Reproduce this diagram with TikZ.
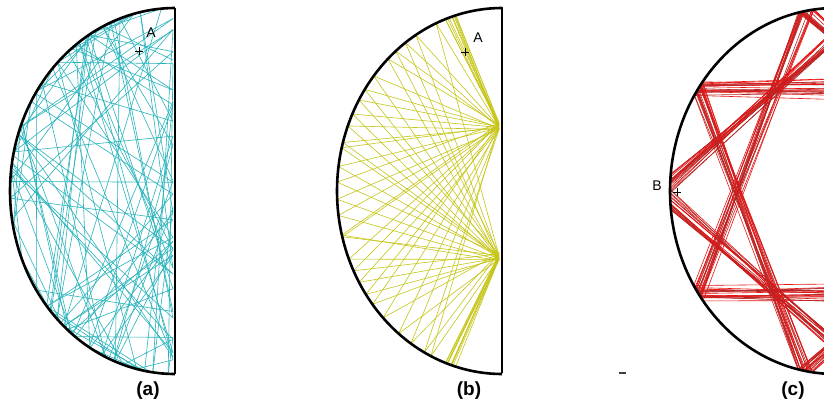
\documentclass[tikz,border=0pt]{standalone}
\usepackage{fontspec}
\setmainfont{Liberation Sans}
\definecolor{cyanl}{RGB}{40,180,188}
\definecolor{olivel}{RGB}{198,198,24}
\definecolor{redl}{RGB}{235,18,18}
\definecolor{redd}{RGB}{180,40,40}
\begin{document}
\begin{tikzpicture}[x=1pt,y=-1pt,
  wallline/.style={line width=2pt,black},
  rim/.style={line width=2.6pt,black},
  traj/.style={line width=0.6pt},
  lab/.style={font=\fontsize{19}{21}\selectfont\bfseries,inner sep=0pt},
  ptlab/.style={font=\fontsize{14}{15}\selectfont,inner sep=0pt},
  crossmark/.style={line width=0.7pt,black}]
\useasboundingbox (0,0) rectangle (824,405);
\clip (0,0) rectangle (824,405);
\fill[white] (0,0) rectangle (824,405);

% ---------- (a) chaotic trajectory ----------
\pgfmathsetseed{7}
\xdef\px{173}\xdef\py{60}\xdef\onw{1}
\foreach \i in {1,...,100}{
  \pgfmathsetmacro\rr{rnd}
  \ifnum\onw=1 \def\rr{0.9}\fi
  \ifdim\rr pt<0.42pt
    \pgfmathsetmacro\nx{173}
    \pgfmathsetmacro\ny{12+358*rnd}
    \gdef\onw{1}
  \else
    \pgfmathsetmacro\ang{92+176*rnd}
    \pgfmathsetmacro\nx{175+165*cos(\ang)}
    \pgfmathsetmacro\ny{191-183*sin(\ang)}
    \gdef\onw{0}
  \fi
  \draw[traj,cyanl] (\px,\py) -- (\nx,\ny);
  \xdef\px{\nx}\xdef\py{\ny}
}

% ---------- (b) fan through two wall points ----------
\pgfmathsetseed{11}
\foreach \i in {1,...,10}{
  \pgfmathsetmacro\ang{106+5*rnd}
  \pgfmathsetmacro\ax{502+165*cos(\ang)}
  \pgfmathsetmacro\ay{191-183*sin(\ang)}
  \pgfmathsetmacro\fy{126+4*rand}
  \draw[traj,olivel] (\ax,\ay) -- (499,\fy);
  \pgfmathsetmacro\ang{249+5*rnd}
  \pgfmathsetmacro\ax{502+165*cos(\ang)}
  \pgfmathsetmacro\ay{191-183*sin(\ang)}
  \pgfmathsetmacro\fy{257+4*rand}
  \draw[traj,olivel] (\ax,\ay) -- (499,\fy);
}
\foreach \i in {1,...,28}{
  \pgfmathsetmacro\ang{113+134*(\i-0.5)/28+2.5*rand}
  \pgfmathsetmacro\ax{502+165*cos(\ang)}
  \pgfmathsetmacro\ay{191-183*sin(\ang)}
  \pgfmathsetmacro\fy{126+4*rand}
  \pgfmathsetmacro\gy{257+4*rand}
  \draw[traj,olivel] (499,\fy) -- (\ax,\ay) -- (499,\gy);
}

% ---------- (c) star-shaped orbit ----------
\pgfmathsetseed{5}
\foreach \i in {1,...,20}{
  \ifodd\i \def\col{redl}\else\def\col{redd}\fi
  \pgfmathsetmacro\aB{177+4*rand}
  \pgfmathsetmacro\Bx{835+165*cos(\aB)}
  \pgfmathsetmacro\By{191-183*sin(\aB)}
  \pgfmathsetmacro\aC{183+4*rand}
  \pgfmathsetmacro\Cx{835+165*cos(\aC)}
  \pgfmathsetmacro\Cy{191-183*sin(\aC)}
  \pgfmathsetmacro\aT{100+3*rand}
  \pgfmathsetmacro\Tx{835+165*cos(\aT)}
  \pgfmathsetmacro\Ty{191-183*sin(\aT)}
  \pgfmathsetmacro\aD{260+3*rand}
  \pgfmathsetmacro\Dx{835+165*cos(\aD)}
  \pgfmathsetmacro\Dy{191-183*sin(\aD)}
  \pgfmathsetmacro\aU{146+3*rand}
  \pgfmathsetmacro\Ux{835+165*cos(\aU)}
  \pgfmathsetmacro\Uy{191-183*sin(\aU)}
  \pgfmathsetmacro\aL{214+3*rand}
  \pgfmathsetmacro\Lx{835+165*cos(\aL)}
  \pgfmathsetmacro\Ly{191-183*sin(\aL)}
  \pgfmathsetmacro\ra{(835-\Bx)/(1670-\Tx-\Bx)}
  \pgfmathsetmacro\rb{(835-\Cx)/(1670-\Dx-\Cx)}
  \pgfmathsetmacro\Wa{\By+(\Ty-\By)*\ra}
  \pgfmathsetmacro\Wb{\Cy+(\Dy-\Cy)*\rb}
  \pgfmathsetmacro\Hu{\Uy+5*rand}
  \pgfmathsetmacro\Hl{\Ly+5*rand}
  \draw[traj,\col] (\Bx,\By) -- (835,\Wa) -- (\Tx,\Ty) -- (\Lx,\Ly) -- (835,\Hl);
  \draw[traj,\col] (835,\Hu) -- (\Ux,\Uy) -- (\Dx,\Dy) -- (835,\Wb) -- (\Cx,\Cy);
}

% ---------- boundaries ----------
\draw[rim] plot[domain=90:270,samples=120] ({175+165*cos(\x)},{191-183*sin(\x)});
\draw[wallline] (175,8) -- (175,374);
\draw[rim] plot[domain=90:270,samples=120] ({502+165*cos(\x)},{191-183*sin(\x)});
\draw[wallline] (502,7) -- (502,373);
\draw[rim] plot[domain=90:270,samples=120] ({835+165*cos(\x)},{191-183*sin(\x)});

% ---------- marks and labels ----------
\node[ptlab] (la) at (151,33) {A};
\draw[crossmark] (135,51) -- (143,51) (139,47) -- (139,55);
\node[ptlab] (lb) at (478,38) {A};
\draw[crossmark] (461,52) -- (469,52) (465,48) -- (465,56);
\node[ptlab] (lc) at (657,186) {B};
\draw[crossmark] (673,192) -- (681,192) (677,188) -- (677,196);
\draw[line width=1.5pt,black!75] (619,373) -- (626,373);

\node[lab] (capa) at (148,391) {(a)};
\node[lab] (capb) at (469,391) {(b)};
\node[lab] (capc) at (793,391) {(c)};
\end{tikzpicture}
\end{document}
